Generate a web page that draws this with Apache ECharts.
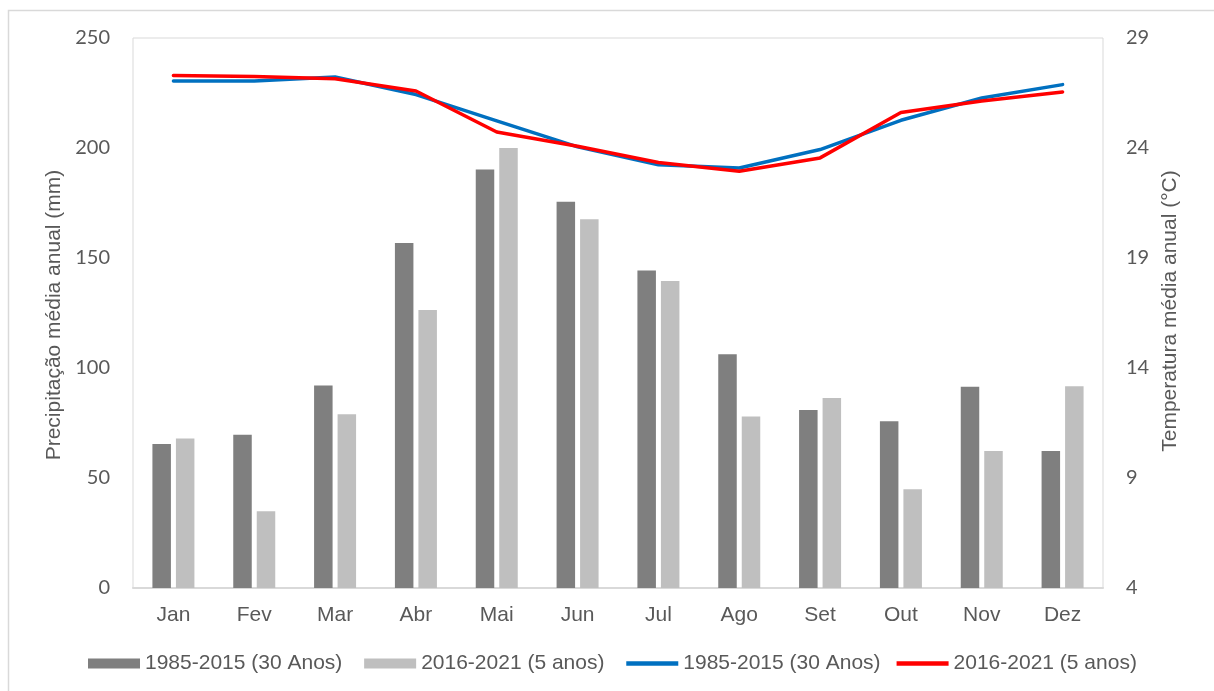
<!DOCTYPE html>
<html>
<head>
<meta charset="utf-8">
<script src="https://cdn.jsdelivr.net/npm/echarts@6/dist/echarts.min.js"></script>
<style>
  html, body { margin: 0; padding: 0; background: #ffffff; }
  #chart { width: 1214px; height: 691px; }
</style>
</head>
<body>
<div id="chart"></div>
<script>
// Months
const months = ['Jan', 'Fev', 'Mar', 'Abr', 'Mai', 'Jun', 'Jul', 'Ago', 'Set', 'Out', 'Nov', 'Dez'];

// Monthly precipitation (mm)
const precip1985_2015 = [65.5, 69.7, 92.1, 156.8, 190.2, 175.6, 144.3, 106.2, 80.9, 75.8, 91.5, 62.3];
const precip2016_2021 = [68.0, 34.9, 79.0, 126.4, 200.0, 167.6, 139.5, 78.0, 86.4, 44.9, 62.3, 91.7];

// Monthly mean temperature (°C)
const temp1985_2015 = [27.04, 27.04, 27.23, 26.43, 25.23, 24.05, 23.24, 23.09, 23.93, 25.26, 26.27, 26.88];
const temp2016_2021 = [27.30, 27.25, 27.15, 26.59, 24.73, 24.08, 23.34, 22.94, 23.55, 25.61, 26.14, 26.55];

// Series names
const name30 = '1985-2015 (30 Anos)';
const name5 = '2016-2021 (5 anos)';

const textColor = '#595959';
const sansFont = '"Liberation Sans", Arial, sans-serif';
const numFont = 'Lato, "Open Sans", sans-serif';

// Flat stroke used as the legend key of the temperature lines
const lineKey = 'path://M0,0 L52,0 L52,4.5 L0,4.5 Z';

const chart = echarts.init(document.getElementById('chart'), null, { renderer: 'canvas' });

chart.setOption({
  backgroundColor: '#ffffff',
  animation: false,
  grid: {
    left: 133, right: 111, top: 38, bottom: 103,
    show: true, borderColor: '#d9d9d9', borderWidth: 1,
    containLabel: false
  },
  legend: {
    left: 88, top: 653, padding: 0,
    itemWidth: 52, itemHeight: 10, itemGap: 16,
    symbolKeepAspect: true,
    textStyle: { fontFamily: sansFont, fontSize: 21, color: textColor },
    data: [
      { name: name30 + ' ', icon: 'rect' },
      { name: name5 + ' ', icon: 'rect' },
      { name: name30, icon: lineKey },
      { name: name5, icon: lineKey }
    ]
  },
  xAxis: {
    type: 'category',
    data: months,
    axisLine: { show: true, lineStyle: { color: '#d9d9d9', width: 2 } },
    axisTick: { show: false },
    axisLabel: { margin: 17, fontFamily: sansFont, fontSize: 21, color: textColor },
    splitLine: { show: false }
  },
  yAxis: [
    {
      type: 'value', min: 0, max: 250, interval: 50, position: 'left',
      axisLine: { show: false }, axisTick: { show: false },
      splitLine: { show: false },
      axisLabel: { margin: 23, fontFamily: numFont, fontSize: 20, color: textColor }
    },
    {
      type: 'value', min: 4, max: 29, interval: 5, position: 'right',
      axisLine: { show: false }, axisTick: { show: false },
      splitLine: { show: false },
      axisLabel: { margin: 23, fontFamily: numFont, fontSize: 20, color: textColor }
    }
  ],
  series: [
    {
      name: name30 + ' ', type: 'bar', yAxisIndex: 0,
      data: precip1985_2015, barWidth: 18.5, barGap: '27%',
      itemStyle: { color: '#7f7f7f' }
    },
    {
      name: name5 + ' ', type: 'bar', yAxisIndex: 0,
      data: precip2016_2021, barWidth: 18.5, barGap: '27%',
      itemStyle: { color: '#bfbfbf' }
    },
    {
      name: name30, type: 'line', yAxisIndex: 1,
      data: temp1985_2015, symbol: 'none',
      lineStyle: { color: '#0070c0', width: 3.5, cap: 'round', join: 'round' },
      itemStyle: { color: '#0070c0' }
    },
    {
      name: name5, type: 'line', yAxisIndex: 1,
      data: temp2016_2021, symbol: 'none',
      lineStyle: { color: '#ff0000', width: 3.5, cap: 'round', join: 'round' },
      itemStyle: { color: '#ff0000' }
    }
  ],
  graphic: [
    {
      type: 'rect', silent: true,
      shape: { x: 8.5, y: 10.5, width: 1400, height: 900 },
      style: { fill: 'none', stroke: '#d9d9d9', lineWidth: 1.5 }
    },
    {
      type: 'text', silent: true,
      x: 54, y: 315, rotation: Math.PI / 2,
      style: {
        text: 'Precipitação média anual (mm)',
        fontFamily: sansFont, fontSize: 21, fill: textColor,
        align: 'center', verticalAlign: 'middle'
      }
    },
    {
      type: 'text', silent: true,
      x: 1170, y: 311, rotation: Math.PI / 2,
      style: {
        text: 'Temperatura média anual (°C)',
        fontFamily: sansFont, fontSize: 21, fill: textColor,
        align: 'center', verticalAlign: 'middle'
      }
    }
  ]
});
</script>
</body>
</html>
